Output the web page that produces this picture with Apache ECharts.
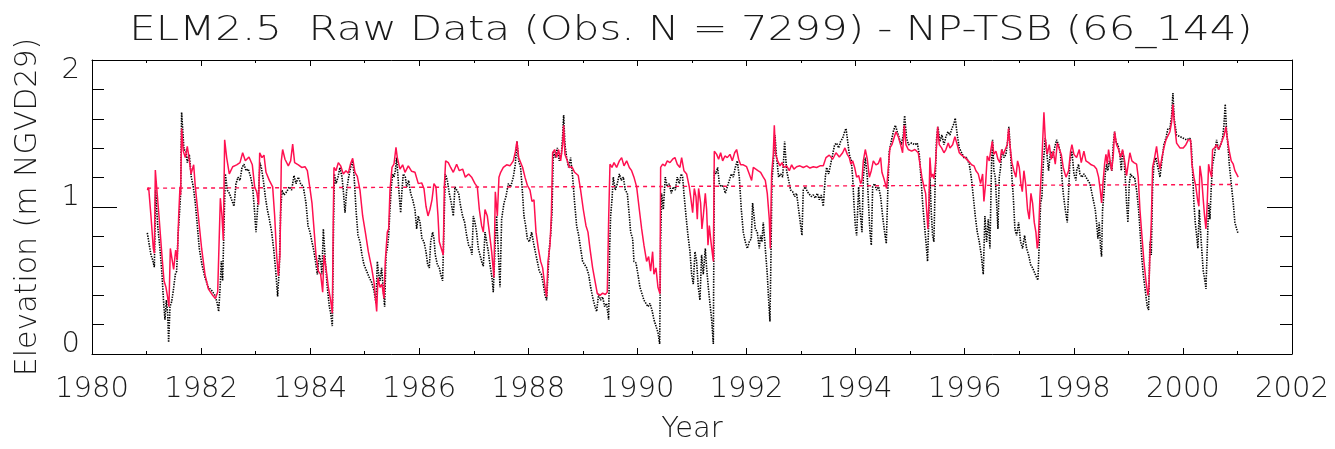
<!DOCTYPE html>
<html>
<head>
<meta charset="utf-8">
<script src="https://cdn.jsdelivr.net/npm/echarts@6/dist/echarts.min.js"></script>
<style>
html,body{margin:0;padding:0;background:#fff;}
#chart{width:1335px;height:449px;}
</style>
</head>
<body>
<div id="chart"></div>
<script>
// ---- text ----
var titleText = 'ELM2.5  Raw Data (Obs. N = 7299) - NP-TSB (66_144)';
var xAxisName = 'Year';
var yAxisName = 'Elevation (m NGVD29)';

// ---- axis ranges / ticks ----
var xRange = [1980, 2002];
var xStep = 2;
var yRange = [0, 2];
var yStep = 1;

// ---- dotted reference line (start/end) ----
var trendPts = [[1981.01, 1.128], [2001.01, 1.153]];

// ---- model (red line) ----
var modelPts = [
[1981.014,1.115],[1981.039,1.131],[1981.081,0.939],[1981.124,0.718],[1981.143,0.685],[1981.161,1.252],[1981.185,1.137],[1981.228,0.939],[1981.277,0.696],[1981.320,0.498],[1981.356,0.454],[1981.381,0.399],[1981.411,0.322],[1981.436,0.718],[1981.460,0.718],[1981.497,0.575],[1981.534,0.707],[1981.564,0.641],[1981.589,0.939],[1981.613,1.137],[1981.625,1.082],[1981.643,1.534],[1981.674,1.380],[1981.711,1.336],[1981.747,1.413],[1981.778,1.336],[1981.815,1.225],[1981.864,1.287],[1981.894,1.137],[1981.949,0.939],[1982.010,0.718],[1982.071,0.542],[1982.133,0.443],[1982.212,0.399],[1982.261,0.377],[1982.304,0.421],[1982.334,0.432],[1982.353,1.060],[1982.383,0.939],[1982.407,0.774],[1982.432,1.457],[1982.469,1.336],[1982.517,1.225],[1982.579,1.274],[1982.652,1.287],[1982.713,1.302],[1982.762,1.369],[1982.811,1.314],[1982.878,1.340],[1982.939,1.287],[1982.982,1.137],[1983.019,1.104],[1983.055,1.016],[1983.074,1.369],[1983.116,1.336],[1983.153,1.353],[1983.190,1.236],[1983.251,1.181],[1983.312,1.137],[1983.349,0.939],[1983.385,0.674],[1983.416,0.531],[1983.446,0.674],[1983.471,1.314],[1983.495,1.391],
[1983.538,1.325],[1983.599,1.280],[1983.642,1.314],[1983.679,1.428],[1983.715,1.302],[1983.783,1.287],[1983.844,1.269],[1983.905,1.274],[1983.948,1.247],[1983.996,1.126],[1984.033,1.027],[1984.070,0.851],[1984.106,0.674],[1984.149,0.564],[1984.192,0.542],[1984.229,0.421],[1984.253,0.674],[1984.290,0.586],[1984.333,0.454],[1984.375,0.366],[1984.406,0.278],[1984.424,0.939],[1984.436,1.269],[1984.473,1.247],[1984.516,1.302],[1984.559,1.280],[1984.607,1.225],[1984.656,1.247],[1984.699,1.230],[1984.742,1.296],[1984.779,1.331],[1984.821,1.236],[1984.864,1.208],[1984.913,1.115],[1984.962,0.939],[1985.011,0.829],[1985.066,0.696],[1985.127,0.586],[1985.170,0.487],[1985.219,0.289],[1985.243,0.520],[1985.280,0.454],[1985.316,0.476],[1985.353,0.377],[1985.377,0.630],[1985.414,0.829],[1985.439,0.851],[1985.463,1.115],[1985.500,1.269],[1985.536,1.291],[1985.573,1.406],[1985.597,1.336],[1985.646,1.258],[1985.695,1.287],[1985.738,1.236],[1985.799,1.280],[1985.860,1.243],[1985.921,1.236],[1985.982,1.159],[1986.044,1.164],[1986.086,1.126],[1986.123,1.005],[1986.160,0.939],[1986.196,0.983],[1986.233,1.049],[1986.269,1.159],[1986.306,1.137],[1986.343,0.939],[1986.367,0.763],[1986.404,0.718],[1986.440,0.674],[1986.459,1.137],[1986.483,1.314],[1986.532,1.302],[1986.575,1.269],[1986.624,1.236],[1986.685,1.291],[1986.734,1.247],[1986.795,1.258],[1986.844,1.203],[1986.905,1.225],[1986.960,1.203],[1987.021,1.159],[1987.064,1.137],[1987.101,0.983],
[1987.143,0.873],[1987.174,0.829],[1987.205,0.983],[1987.247,0.939],[1987.284,0.829],[1987.327,0.696],[1987.369,0.520],[1987.394,1.104],[1987.431,0.939],[1987.461,1.203],[1987.492,1.236],[1987.541,1.269],[1987.602,1.287],[1987.663,1.280],[1987.724,1.314],[1987.761,1.375],[1987.791,1.446],[1987.822,1.336],[1987.858,1.347],[1987.895,1.269],[1987.938,1.203],[1987.981,1.148],[1988.030,1.115],[1988.066,1.038],[1988.103,1.049],[1988.140,0.829],[1988.182,0.718],[1988.225,0.630],[1988.262,0.586],[1988.305,0.454],[1988.335,0.388],[1988.360,0.630],[1988.396,0.740],[1988.421,0.939],[1988.445,1.369],[1988.482,1.391],[1988.518,1.336],[1988.555,1.391],[1988.592,1.314],[1988.628,1.424],[1988.647,1.556],[1988.671,1.358],[1988.714,1.314],[1988.750,1.269],[1988.799,1.274],[1988.848,1.236],[1988.915,1.214],[1988.958,1.115],[1989.007,0.983],[1989.056,0.873],[1989.093,0.829],[1989.129,0.718],[1989.178,0.586],[1989.221,0.498],[1989.264,0.410],[1989.313,0.399],[1989.362,0.414],[1989.411,0.405],[1989.447,0.421],[1989.472,0.917],[1989.496,1.291],[1989.533,1.269],[1989.570,1.302],[1989.618,1.269],[1989.668,1.314],[1989.710,1.336],[1989.753,1.280],[1989.802,1.314],[1989.851,1.269],[1989.893,1.247],[1989.936,1.203],[1989.985,1.137],[1990.034,0.983],[1990.077,0.851],[1990.119,0.740],[1990.168,0.630],[1990.205,0.663],[1990.241,0.564],[1990.278,0.696],[1990.302,0.542],[1990.339,0.586],[1990.376,0.454],[1990.413,0.410],[1990.425,1.269],[1990.462,1.291],[1990.504,1.280],[1990.547,1.314],[1990.596,1.302],[1990.645,1.325],[1990.687,1.336],[1990.730,1.291],[1990.779,1.269],[1990.810,1.336],[1990.852,1.247],[1990.901,1.225],[1990.950,1.137],[1990.975,1.071],[1991.012,0.961],[1991.042,1.126],[1991.073,1.071],[1991.097,0.917],[1991.121,1.126],[1991.158,1.027],[1991.182,0.851],[1991.207,0.939],[1991.244,1.093],[1991.268,0.983],[1991.293,0.740],[1991.317,0.873],[1991.348,0.763],[1991.391,0.630],[1991.409,1.380],[1991.452,1.358],[1991.488,1.325],[1991.525,1.369],[1991.562,1.314],[1991.604,1.347],[1991.647,1.336],[1991.696,1.358],[1991.739,1.314],[1991.782,1.369],[1991.818,1.391],[1991.855,1.325],[1991.892,1.287],[1991.940,1.287],[1992.001,1.274],[1992.050,1.225],[1992.093,1.181],[1992.124,1.269],[1992.160,1.258],[1992.209,1.247],[1992.258,1.236],[1992.307,1.203],[1992.344,1.181],[1992.380,1.093],[1992.417,0.917],[1992.435,0.718],[1992.460,1.225],[1992.490,1.358],[1992.509,1.556],[1992.533,1.358],[1992.570,1.314],[1992.613,1.280],[1992.649,1.302],[1992.686,1.269],[1992.735,1.280],[1992.784,1.247],[1992.827,1.287],[1992.869,1.258],[1992.918,1.274],[1992.979,1.280],[1993.040,1.269],[1993.102,1.280],[1993.163,1.265],[1993.224,1.274],[1993.285,1.269],[1993.346,1.280],[1993.407,1.280],[1993.456,1.336],[1993.517,1.353],[1993.579,1.325],[1993.640,1.369],[1993.701,1.340],[1993.762,1.369],[1993.804,1.402],[1993.847,1.358],[1993.884,1.336],[1993.914,1.291],[1993.945,1.314],[1993.982,1.269],[1994.018,1.203],[1994.055,1.214],[1994.092,1.159],[1994.116,1.181],[1994.141,1.314],[1994.177,1.391],[1994.214,1.325],[1994.251,1.203],[1994.287,1.247],[1994.324,1.314],[1994.373,1.287],[1994.416,1.296],
[1994.458,1.336],[1994.482,1.236],[1994.519,1.192],[1994.568,1.126],[1994.604,1.291],[1994.629,1.402],[1994.665,1.424],[1994.702,1.468],[1994.739,1.512],[1994.782,1.479],[1994.824,1.424],[1994.861,1.369],[1994.892,1.556],[1994.922,1.424],[1994.965,1.391],[1995.026,1.380],[1995.087,1.391],[1995.148,1.369],[1995.179,1.291],[1995.215,1.203],[1995.252,1.137],[1995.283,1.093],[1995.301,0.983],[1995.325,0.851],[1995.344,1.027],[1995.362,1.336],[1995.387,1.203],[1995.411,1.225],[1995.435,1.192],[1995.460,1.269],[1995.484,1.424],[1995.503,1.545],[1995.533,1.424],[1995.576,1.402],[1995.619,1.369],[1995.655,1.391],[1995.698,1.435],[1995.729,1.402],[1995.778,1.424],[1995.820,1.479],[1995.863,1.424],[1995.900,1.369],[1995.943,1.353],[1996.004,1.336],[1996.065,1.314],[1996.126,1.287],[1996.169,1.280],[1996.205,1.247],[1996.248,1.225],[1996.291,1.159],[1996.328,1.225],[1996.352,1.038],[1996.383,1.159],[1996.413,1.347],[1996.450,1.314],[1996.480,1.391],[1996.505,1.446],[1996.535,1.358],[1996.572,1.380],[1996.609,1.325],[1996.645,1.302],[1996.676,1.391],[1996.706,1.358],[1996.743,1.391],[1996.780,1.424],[1996.804,1.534],[1996.829,1.424],[1996.865,1.302],[1996.902,1.247],[1996.939,1.203],[1996.969,1.314],[1997.000,1.269],[1997.030,1.159],[1997.055,1.104],[1997.085,1.247],[1997.116,1.159],[1997.152,0.983],[1997.183,0.917],[1997.214,1.093],[1997.244,1.027],[1997.275,0.895],[1997.305,0.829],[1997.330,0.718],[1997.348,0.763],[1997.379,1.071],[1997.409,1.269],[1997.434,1.490],[1997.452,1.644],[1997.476,1.468],[1997.513,1.358],[1997.550,1.424],[1997.586,1.325],[1997.623,1.380],[1997.660,1.291],[1997.697,1.435],[1997.733,1.424],[1997.770,1.358],[1997.806,1.269],[1997.856,1.203],[1997.904,1.247],[1997.941,1.380],[1997.965,1.424],[1998.002,1.358],[1998.051,1.336],
[1998.100,1.391],[1998.136,1.302],[1998.185,1.380],[1998.222,1.314],[1998.271,1.302],[1998.320,1.287],[1998.368,1.280],[1998.417,1.258],[1998.454,1.203],[1998.485,1.115],[1998.509,1.027],[1998.534,1.159],[1998.564,1.291],[1998.589,1.358],[1998.613,1.291],[1998.637,1.391],[1998.662,1.380],[1998.692,1.247],[1998.723,1.347],[1998.747,1.512],[1998.784,1.424],[1998.821,1.391],[1998.857,1.336],[1998.894,1.391],[1998.931,1.314],[1998.967,1.214],[1998.998,1.203],[1999.028,1.369],[1999.065,1.314],[1999.102,1.302],[1999.151,1.291],[1999.181,1.203],[1999.212,0.983],[1999.248,0.807],[1999.285,0.630],[1999.322,0.498],[1999.358,0.399],[1999.377,0.454],[1999.395,0.674],[1999.420,0.895],[1999.444,1.269],[1999.481,1.336],[1999.517,1.413],[1999.542,1.336],[1999.579,1.258],[1999.615,1.336],[1999.652,1.402],[1999.689,1.457],[1999.725,1.446],[1999.762,1.512],[1999.793,1.578],[1999.817,1.699],[1999.841,1.578],[1999.884,1.435],[1999.945,1.402],[2000.006,1.402],[2000.055,1.424],[2000.098,1.457],[2000.141,1.457],[2000.165,1.291],[2000.202,1.203],[2000.238,1.137],[2000.269,1.049],[2000.293,1.005],[2000.312,1.280],[2000.342,1.203],[2000.373,1.049],[2000.397,0.939],[2000.422,0.851],[2000.446,1.027],[2000.471,1.291],[2000.495,1.247],[2000.526,1.203],[2000.544,1.391],[2000.581,1.402],[2000.617,1.424],[2000.654,1.391],[2000.691,1.424],[2000.727,1.413],[2000.758,1.490],[2000.788,1.545],[2000.813,1.468],[2000.850,1.380],[2000.886,1.314],[2000.923,1.291],[2000.953,1.247],[2000.984,1.225],[2001.014,1.203]
];

// ---- observations (black dots) ----
var obsPts = [
[1981.014,0.824],[1981.051,0.740],[1981.081,0.674],[1981.112,0.641],[1981.143,0.591],[1981.167,1.115],[1981.204,0.873],[1981.246,0.718],[1981.283,0.542],[1981.314,0.344],[1981.338,0.234],[1981.363,0.366],[1981.387,0.278],[1981.405,0.079],[1981.430,0.322],[1981.460,0.355],[1981.491,0.432],[1981.528,0.542],[1981.552,0.564],[1981.577,0.807],[1981.601,0.939],[1981.625,1.093],[1981.643,1.644],[1981.662,1.534],[1981.686,1.391],[1981.723,1.380],[1981.747,1.302],[1981.784,1.358],[1981.821,1.203],[1981.857,1.137],[1981.894,1.027],[1981.931,0.873],[1981.967,0.718],[1982.016,0.608],[1982.071,0.520],[1982.133,0.454],[1982.194,0.432],[1982.255,0.399],[1982.297,0.344],[1982.322,0.289],[1982.346,0.432],[1982.371,0.630],[1982.395,0.498],[1982.420,0.873],[1982.444,1.225],[1982.481,1.115],[1982.518,1.093],[1982.560,1.049],[1982.603,1.005],[1982.640,1.159],[1982.677,1.203],[1982.713,1.181],[1982.750,1.269],[1982.787,1.291],[1982.823,1.247],[1982.866,1.258],[1982.909,1.203],[1982.945,1.137],[1982.982,0.961],[1983.006,0.829],[1983.031,0.961],[1983.055,1.115],[1983.080,1.302],[1983.110,1.258],[1983.141,1.181],[1983.177,1.071],[1983.214,0.983],[1983.251,0.917],[1983.294,0.829],[1983.336,0.696],[1983.373,0.542],[1983.403,0.392],[1983.434,0.586],[1983.458,0.961],[1983.483,1.115],[1983.519,1.082],
[1983.569,1.104],[1983.617,1.137],[1983.660,1.115],[1983.703,1.214],[1983.740,1.159],[1983.783,1.203],[1983.825,1.159],[1983.874,1.137],[1983.923,1.027],[1983.960,0.873],[1983.996,0.829],[1984.033,0.763],[1984.070,0.696],[1984.106,0.608],[1984.131,0.542],[1984.168,0.674],[1984.192,0.630],[1984.216,0.542],[1984.241,0.851],[1984.278,0.630],[1984.314,0.454],[1984.351,0.322],[1984.375,0.278],[1984.406,0.190],[1984.424,0.763],[1984.443,1.225],[1984.473,1.159],[1984.510,1.203],[1984.546,1.269],[1984.583,1.203],[1984.607,1.115],[1984.638,0.961],[1984.669,1.115],[1984.705,1.203],[1984.742,1.269],[1984.779,1.314],[1984.803,1.225],[1984.840,0.983],[1984.876,0.807],[1984.913,0.763],[1984.950,0.674],[1984.986,0.608],[1985.035,0.564],[1985.084,0.520],[1985.127,0.487],[1985.170,0.432],[1985.206,0.344],[1985.231,0.630],[1985.255,0.542],[1985.280,0.498],[1985.310,0.586],[1985.341,0.432],[1985.365,0.322],[1985.390,0.674],[1985.414,0.718],[1985.439,0.807],[1985.463,0.983],[1985.488,1.137],[1985.512,1.225],[1985.536,1.203],[1985.561,1.247],[1985.585,1.336],[1985.610,1.203],[1985.634,1.071],[1985.659,0.961],[1985.683,1.115],[1985.707,1.225],[1985.744,1.203],[1985.769,1.137],[1985.805,1.181],[1985.842,1.093],[1985.879,1.049],[1985.921,0.983],[1985.952,0.851],[1985.982,0.939],[1986.013,0.895],[1986.050,0.785],[1986.086,0.763],[1986.123,0.696],[1986.154,0.608],[1986.184,0.586],[1986.209,0.763],[1986.245,0.829],[1986.269,0.785],[1986.294,0.674],[1986.331,0.608],[1986.367,0.586],[1986.392,0.542],[1986.428,0.498],[1986.459,0.961],[1986.477,1.225],[1986.514,1.181],[1986.550,1.093],[1986.587,1.027],[1986.624,0.939],[1986.654,1.137],[1986.685,1.137],[1986.722,1.093],[1986.758,1.005],[1986.795,0.939],[1986.832,0.895],[1986.868,0.807],[1986.905,0.740],[1986.942,0.718],[1986.966,0.674],[1986.991,0.939],[1987.021,0.895],[1987.052,0.829],[1987.082,0.718],
[1987.113,0.718],[1987.143,0.630],[1987.174,0.597],[1987.205,0.829],[1987.235,0.763],[1987.266,0.696],[1987.296,0.608],[1987.333,0.520],[1987.357,0.421],[1987.388,0.718],[1987.418,0.939],[1987.449,0.696],[1987.480,0.454],[1987.510,0.917],[1987.553,1.027],[1987.590,1.071],[1987.632,1.159],[1987.675,1.137],[1987.724,1.203],[1987.761,1.291],[1987.791,1.446],[1987.822,1.314],[1987.858,1.269],[1987.889,1.115],[1987.919,0.939],[1987.950,0.873],[1987.981,0.785],[1988.017,0.763],[1988.060,0.829],[1988.091,0.763],[1988.127,0.696],[1988.164,0.630],[1988.200,0.564],[1988.237,0.542],[1988.274,0.476],[1988.305,0.399],[1988.335,0.366],[1988.360,0.542],[1988.384,0.718],[1988.408,0.807],[1988.433,0.961],[1988.457,1.380],[1988.494,1.336],[1988.531,1.402],[1988.567,1.314],[1988.604,1.358],[1988.628,1.479],[1988.647,1.626],[1988.671,1.424],[1988.702,1.336],[1988.738,1.269],[1988.775,1.336],[1988.812,1.203],[1988.848,1.027],[1988.885,0.873],[1988.922,0.807],[1988.958,0.718],[1988.995,0.630],[1989.032,0.608],[1989.068,0.586],[1989.105,0.542],[1989.142,0.454],[1989.178,0.388],[1989.221,0.322],[1989.252,0.289],[1989.288,0.410],[1989.325,0.366],[1989.362,0.388],[1989.398,0.322],[1989.435,0.344],[1989.472,0.234],[1989.490,0.718],[1989.508,0.939],[1989.533,1.049],[1989.557,1.203],[1989.594,1.115],[1989.631,1.159],[1989.668,1.225],[1989.704,1.181],[1989.741,1.203],[1989.777,1.115],[1989.814,1.093],[1989.851,0.939],[1989.875,0.829],[1989.912,0.785],[1989.936,0.630],[1989.973,0.619],[1990.009,0.542],[1990.046,0.454],[1990.083,0.410],[1990.119,0.366],[1990.156,0.344],[1990.193,0.322],[1990.229,0.344],[1990.266,0.300],[1990.302,0.234],[1990.339,0.190],[1990.376,0.146],[1990.407,0.068],[1990.425,0.763],[1990.443,1.093],[1990.474,0.983],[1990.510,1.203],[1990.547,1.137],[1990.584,1.159],[1990.621,1.093],[1990.657,1.137],[1990.694,1.115],[1990.730,1.203],[1990.767,1.159],[1990.804,1.225],[1990.828,1.203],[1990.852,1.093],[1990.890,0.939],[1990.926,0.807],[1990.963,0.696],[1990.993,0.542],[1991.024,0.476],[1991.054,0.696],[1991.085,0.630],[1991.115,0.454],[1991.146,0.366],[1991.176,0.674],[1991.207,0.542],[1991.244,0.718],[1991.268,0.586],[1991.299,0.454],[1991.329,0.344],[1991.360,0.234],[1991.391,0.068],[1991.409,1.247],[1991.440,1.225],[1991.470,1.269],[1991.501,1.159],[1991.537,1.137],[1991.574,1.148],[1991.611,1.093],[1991.647,1.137],[1991.684,1.181],[1991.721,1.225],[1991.757,1.203],[1991.794,1.269],[1991.831,1.314],[1991.867,1.203],[1991.904,0.983],[1991.940,0.829],[1991.977,0.763],[1992.014,0.718],[1992.050,0.763],[1992.087,0.785],[1992.111,1.027],[1992.136,0.939],[1992.160,0.851],[1992.197,0.829],[1992.233,0.718],[1992.258,0.807],[1992.282,0.763],[1992.307,0.895],[1992.344,0.718],[1992.380,0.542],[1992.405,0.366],[1992.429,0.222],[1992.448,0.674],[1992.466,1.181],[1992.490,1.291],[1992.521,1.490],[1992.551,1.336],[1992.588,1.203],[1992.625,1.225],[1992.662,1.203],[1992.698,1.446],[1992.735,1.247],[1992.772,1.181],[1992.808,1.115],[1992.845,1.104],[1992.882,1.071],[1992.918,1.093],[1992.955,0.983],[1992.992,0.873],[1993.016,0.807],[1993.040,1.115],[1993.077,1.137],[1993.114,1.104],[1993.150,1.093],[1993.187,1.071],[1993.224,1.082],[1993.260,1.060],[1993.297,1.093],[1993.334,1.049],[1993.370,1.082],[1993.407,1.005],[1993.444,1.203],[1993.468,1.269],[1993.505,1.225],[1993.542,1.291],[1993.579,1.358],[1993.615,1.424],[1993.652,1.435],[1993.689,1.402],[1993.725,1.446],[1993.762,1.468],[1993.799,1.512],[1993.823,1.534],[1993.847,1.468],[1993.884,1.358],[1993.921,1.314],[1993.945,1.203],[1993.969,1.027],[1993.994,0.873],[1994.018,0.807],[1994.055,1.137],[1994.079,0.983],[1994.116,0.829],[1994.141,1.203],[1994.177,1.336],[1994.214,1.203],[1994.238,1.005],[1994.263,0.829],[1994.287,0.740],[1994.312,1.137],[1994.348,1.159],[1994.385,1.115],[1994.421,1.137],
[1994.458,1.071],[1994.494,0.939],[1994.531,0.829],[1994.562,0.751],[1994.592,1.137],[1994.617,1.380],[1994.653,1.446],[1994.690,1.512],[1994.727,1.556],[1994.763,1.512],[1994.800,1.468],[1994.837,1.424],[1994.873,1.490],[1994.898,1.622],[1994.934,1.468],[1994.971,1.424],[1995.026,1.435],[1995.087,1.424],[1995.130,1.435],[1995.167,1.358],[1995.197,1.203],[1995.228,1.027],[1995.258,0.895],[1995.289,0.763],[1995.319,0.630],[1995.338,0.619],[1995.362,1.203],[1995.387,0.961],[1995.411,0.807],[1995.435,0.763],[1995.460,1.203],[1995.484,1.468],[1995.509,1.545],[1995.546,1.446],[1995.582,1.490],[1995.619,1.424],[1995.655,1.479],[1995.692,1.512],[1995.729,1.490],[1995.765,1.534],[1995.802,1.567],[1995.826,1.604],[1995.863,1.490],[1995.900,1.402],[1995.943,1.369],[1995.985,1.336],[1996.034,1.336],[1996.083,1.291],[1996.120,1.203],[1996.157,1.071],[1996.193,0.939],[1996.230,0.829],[1996.267,0.763],[1996.303,0.674],[1996.340,0.542],[1996.370,0.939],[1996.401,0.763],[1996.432,0.917],[1996.462,0.718],[1996.493,1.314],[1996.511,1.457],[1996.535,1.247],[1996.560,1.203],[1996.584,1.027],[1996.609,0.851],[1996.633,1.203],[1996.658,1.269],[1996.682,1.391],[1996.719,1.336],[1996.756,1.358],[1996.786,1.446],[1996.810,1.545],[1996.841,1.358],[1996.865,1.203],[1996.890,1.071],[1996.920,0.851],[1996.951,0.807],[1996.988,0.895],[1997.024,0.763],[1997.061,0.718],[1997.097,0.807],[1997.134,0.718],[1997.171,0.674],[1997.208,0.608],[1997.244,0.586],[1997.281,0.553],[1997.318,0.520],[1997.342,0.502],[1997.367,0.763],[1997.391,1.027],[1997.415,1.071],[1997.440,1.291],[1997.476,1.468],[1997.513,1.336],[1997.537,1.247],[1997.574,1.380],[1997.611,1.336],[1997.648,1.402],[1997.684,1.457],[1997.721,1.424],[1997.757,1.358],[1997.782,1.203],[1997.806,1.093],[1997.843,0.983],[1997.880,0.895],[1997.904,1.093],[1997.929,1.314],[1997.965,1.380],[1998.002,1.225],[1998.039,1.181],
[1998.051,1.247],[1998.087,1.291],[1998.112,1.225],[1998.149,1.203],[1998.185,1.225],[1998.222,1.203],[1998.258,1.192],[1998.295,1.159],[1998.332,1.093],[1998.368,1.027],[1998.393,0.983],[1998.417,0.895],[1998.442,0.785],[1998.466,0.895],[1998.491,0.718],[1998.509,0.663],[1998.527,0.983],[1998.552,1.093],[1998.576,1.225],[1998.601,1.291],[1998.625,1.247],[1998.650,1.314],[1998.674,1.314],[1998.698,1.247],[1998.723,1.424],[1998.747,1.512],[1998.772,1.446],[1998.809,1.424],[1998.845,1.358],[1998.870,1.247],[1998.894,1.380],[1998.918,1.336],[1998.943,1.203],[1998.967,1.027],[1998.992,0.895],[1999.016,1.159],[1999.041,1.225],[1999.077,1.203],[1999.114,1.203],[1999.151,1.115],[1999.187,0.983],[1999.212,0.851],[1999.242,0.674],[1999.273,0.542],[1999.310,0.432],[1999.346,0.322],[1999.371,0.300],[1999.395,0.763],[1999.420,0.674],[1999.444,1.137],[1999.469,1.291],[1999.505,1.336],[1999.542,1.269],[1999.579,1.203],[1999.615,1.314],[1999.652,1.424],[1999.689,1.468],[1999.725,1.534],[1999.762,1.534],[1999.793,1.622],[1999.817,1.776],[1999.841,1.600],[1999.884,1.490],[1999.945,1.479],[2000.006,1.468],[2000.067,1.457],[2000.128,1.468],[2000.153,1.424],[2000.177,1.247],[2000.202,1.027],[2000.226,0.895],[2000.251,0.807],[2000.275,0.718],[2000.300,0.983],[2000.324,0.829],[2000.348,0.696],[2000.373,0.564],[2000.404,0.498],[2000.422,0.443],[2000.446,0.718],[2000.471,1.027],[2000.495,0.917],[2000.520,1.137],[2000.544,1.291],[2000.581,1.358],[2000.617,1.457],[2000.654,1.391],[2000.691,1.424],[2000.727,1.468],[2000.752,1.556],[2000.776,1.699],[2000.801,1.512],[2000.825,1.424],[2000.850,1.291],[2000.886,1.159],[2000.923,1.027],[2000.953,0.895],[2000.984,0.851],[2001.014,0.817]
];

// ---- styling ----
var FONT = "'DejaVu Sans', 'Liberation Sans', sans-serif";
var TXT = '#1a1a1a';
var RED = '#ff1050';

var chart = echarts.init(document.getElementById('chart'), null, {renderer: 'canvas'});

function plain(v) { return String(v); }

function xAx(pos, showLabel) {
  return {
    type: 'value', position: pos, min: xRange[0], max: xRange[1], interval: xStep,
    axisLine: {show: true, onZero: false, lineStyle: {color: '#000', width: 1}},
    axisTick: {show: true, inside: true, length: 6, lineStyle: {color: '#000', width: 1}},
    minorTick: {show: true, splitNumber: 2, length: 3, lineStyle: {color: '#000', width: 1}},
    splitLine: {show: false},
    axisLabel: {show: showLabel, formatter: plain, fontSize: 29, lineHeight: 29, fontFamily: FONT, fontWeight: 200, color: TXT, margin: 21},
    name: showLabel ? xAxisName : '', nameLocation: 'middle', nameGap: 61,
    nameTextStyle: {fontSize: 29, lineHeight: 29, fontFamily: FONT, fontWeight: 200, color: TXT}
  };
}
function yAx(pos, showLabel) {
  return {
    type: 'value', position: pos, min: yRange[0], max: yRange[1], interval: yStep,
    axisLine: {show: true, onZero: false, lineStyle: {color: '#000', width: 1}},
    axisTick: {show: true, inside: true, length: 25, lineStyle: {color: '#000', width: 1}},
    minorTick: {show: true, splitNumber: 5, length: 12, lineStyle: {color: '#000', width: 1}},
    splitLine: {show: false},
    axisLabel: {show: showLabel, formatter: plain, fontSize: 29, lineHeight: 20, fontFamily: FONT, fontWeight: 200, color: TXT, margin: 12,
      verticalAlign: 'bottom', verticalAlignMinLabel: 'bottom', verticalAlignMaxLabel: 'top'},
    name: showLabel ? yAxisName : '', nameLocation: 'middle', nameGap: 49, nameRotate: 90,
    nameTextStyle: {fontSize: 30, lineHeight: 30, fontFamily: FONT, fontWeight: 200, color: TXT}
  };
}

var option = {
  animation: false,
  backgroundColor: '#fff',
  grid: {left: 92, right: 43, top: 60, bottom: 87, containLabel: false},
  xAxis: [xAx('bottom', true), xAx('top', false)],
  yAxis: [yAx('left', true), yAx('right', false)],
  graphic: [{
    type: 'text', x: 691, y: 31.5, scaleX: 1.27, scaleY: 1,
    style: {text: titleText, fontSize: 33, fontFamily: FONT, fontWeight: 200, fill: TXT,
      textAlign: 'center', textVerticalAlign: 'middle'}
  }],
  series: [
    {
      name: 'obs', type: 'line', data: obsPts, xAxisIndex: 0, yAxisIndex: 0,
      showSymbol: false, symbol: 'none', z: 2,
      lineStyle: {color: '#000', width: 1.6, type: [1.4, 1.2]}
    },
    {
      name: 'model', type: 'line', data: modelPts, xAxisIndex: 0, yAxisIndex: 0,
      showSymbol: false, symbol: 'none', z: 3,
      lineStyle: {color: RED, width: 1.5}
    },
    {
      name: 'trend', type: 'line', data: trendPts, xAxisIndex: 0, yAxisIndex: 0,
      showSymbol: false, symbol: 'none', z: 4,
      lineStyle: {color: RED, width: 1.4, type: [4, 4]}
    }
  ]
};
chart.setOption(option);
</script>
</body>
</html>
